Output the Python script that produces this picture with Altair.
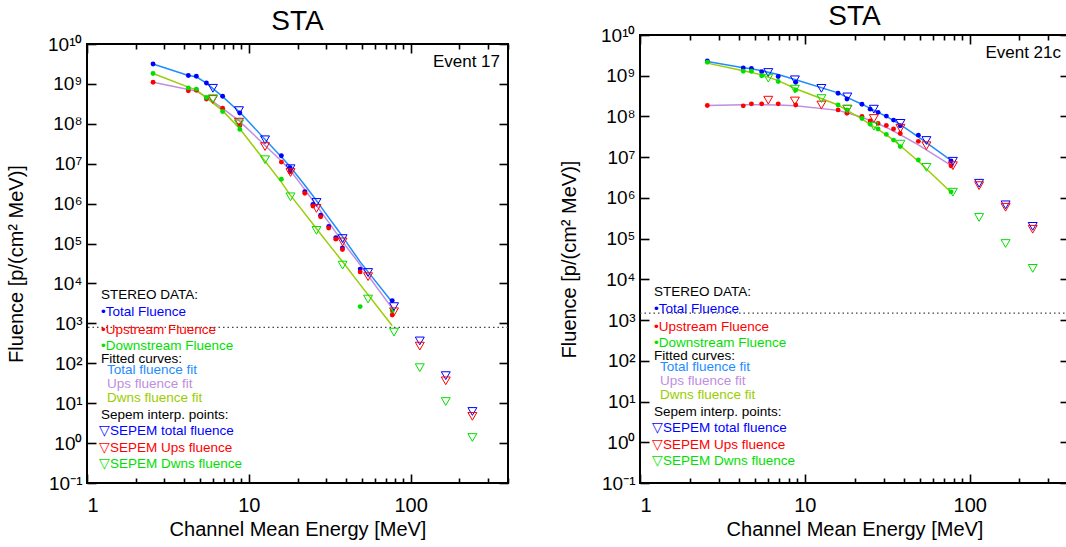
import altair as alt
import pandas as pd

# ---------------- data ----------------
E_STEREO = [2.56, 4.23, 4.74, 5.47, 6.89, 8.8, 15.9, 18.0, 22.2, 24.9, 27.8, 31.2, 34.5, 37.9, 48.8, 77.0]
E_SEPEM = [6.0, 8.7, 12.6, 18.1, 26.2, 38.0, 54.6, 79.0, 114.0, 165.0, 241.0]

# Event 17
EV17_TOTAL = [3.16e9, 1.62e9, 1.55e9, 1.05e9, 4.90e8, 1.86e8, 1.58e7, 7.94e6, 2.0e6, 9.55e5, 5.13e5, 2.69e5, 1.41e5, 7.76e4, 2.29e4, 3.72e3]
EV17_UPS = [1.10e9, 6.76e8, 6.92e8, 4.17e8, 2.45e8, 9.12e7, 1.10e7, 6.31e6, 1.82e6, 8.71e5, 4.68e5, 2.45e5, 1.29e5, 7.08e4, 1.95e4, 1.62e3]
EV17_DWNS = [1.82e9, 7.94e8, 7.41e8, 4.57e8, 2.04e8, 7.24e7, 4.07e6, None, None, None, None, None, None, None, 2.63e3, 2.04e3]
EV17_FIT_TOTAL = [3.16e9, 1.62e9, 1.51e9, 1.05e9, 4.79e8, 1.95e8, 1.48e7, 8.51e6, 2.88e6, 1.58e6, 8.51e5, 4.47e5, 2.57e5, 1.51e5, 3.47e4, 3.39e3]
EV17_FIT_UPS = [1.10e9, 7.24e8, 6.61e8, 4.68e8, 2.45e8, 1.15e8, 1.17e7, 6.92e6, 2.24e6, 1.20e6, 6.46e5, 3.39e5, 1.91e5, 1.12e5, 2.95e4, 2.37e3]
EV17_FIT_DWNS = [1.82e9, 8.32e8, 7.08e8, 4.47e8, 2.14e8, 7.50e7, 3.47e6, 1.66e6, 5.62e5, 3.09e5, 1.74e5, 9.55e4, 5.75e4, 3.55e4, 9.33e3, 8.71e2]
EV17_SEP_TOTAL = [7.76e8, 2.14e8, 3.98e7, 7.50e6, 1.07e6, 1.33e5, 1.88e4, 2.63e3, 363, 49, 6.2]
EV17_SEP_UPS = [4.07e8, 1.10e8, 2.69e7, 6.03e6, 7.59e5, 1.10e5, 1.48e4, 1.95e3, 269, 36.3, 4.68]
EV17_SEP_DWNS = [4.27e8, 1.0e8, 1.26e7, 1.48e6, 2.14e5, 2.88e4, 4.07e3, 603, 77.6, 11.0, 1.38]
EV17_LEVEL = 794

# Event 21c
EV21_TOTAL = [2.29e9, 1.55e9, 1.51e9, 1.26e9, 9.55e8, 6.92e8, 3.72e8, 2.69e8, 2.0e8, 1.51e8, 1.26e8, 1.02e8, 8.13e7, 5.89e7, 3.47e7, 8.13e6]
EV21_UPS = [1.86e8, 1.82e8, 2.04e8, 2.04e8, 2.04e8, 1.91e8, 1.45e8, 1.20e8, 1.0e8, 7.76e7, 6.76e7, 6.03e7, 4.90e7, 3.80e7, 2.45e7, 6.17e6]
EV21_DWNS = [2.14e9, 1.29e9, 1.29e9, 1.0e9, 7.24e8, 4.47e8, 1.91e8, 1.45e8, 8.91e7, 6.46e7, 4.90e7, 3.63e7, 2.63e7, 1.82e7, 8.51e6, 1.41e6]
EV21_FIT_TOTAL = [2.24e9, 1.58e9, 1.48e9, 1.32e9, 1.07e9, 7.94e8, 3.80e8, 2.95e8, 2.0e8, 1.58e8, 1.26e8, 1.0e8, 7.94e7, 6.31e7, 3.16e7, 8.32e6]
EV21_FIT_UPS = [1.86e8, 1.95e8, 1.95e8, 1.95e8, 1.91e8, 1.82e8, 1.41e8, 1.23e8, 9.55e7, 7.94e7, 6.61e7, 5.37e7, 4.37e7, 3.55e7, 2.0e7, 6.31e6]
EV21_FIT_DWNS = [2.04e9, 1.32e9, 1.20e9, 1.05e9, 7.59e8, 4.79e8, 1.91e8, 1.41e8, 8.71e7, 6.31e7, 4.79e7, 3.55e7, 2.63e7, 1.91e7, 7.94e6, 1.38e6]
EV21_SEP_TOTAL = [1.20e9, 7.94e8, 4.90e8, 3.02e8, 1.51e8, 6.76e7, 2.57e7, 7.94e6, 2.29e6, 6.76e5, 2.0e5]
EV21_SEP_UPS = [2.51e8, 2.40e8, 1.91e8, 1.51e8, 8.91e7, 5.13e7, 1.91e7, 6.17e6, 2.0e6, 5.89e5, 1.70e5]
EV21_SEP_DWNS = [8.71e8, 4.68e8, 2.75e8, 1.51e8, 5.75e7, 2.09e7, 5.62e6, 1.38e6, 3.31e5, 7.59e4, 1.86e4]
EV21_LEVEL = 1490

X_MAJOR = [1, 10, 100]
X_MINOR = [2, 3, 4, 5, 6, 7, 8, 9, 20, 30, 40, 50, 60, 70, 80, 90, 200, 300, 400]
Y_MAJOR = [1e-1, 1e0, 1e1, 1e2, 1e3, 1e4, 1e5, 1e6, 1e7, 1e8, 1e9, 1e10]

LEGEND_TEXT = ["STEREO DATA:", "\u2022Total Fluence", "\u2022Upstream Fluence", "\u2022Downstream Fluence",
               "Fitted curves:", "Total fluence fit", "Ups fluence fit", "Dwns fluence fit",
               "Sepem interp. points:", "\u25BDSEPEM total fluence", "\u25BDSEPEM Ups fluence",
               "\u25BDSEPEM Dwns fluence"]

# ---------------- styling ----------------
FONT = "Liberation Sans"
C_TOT, C_UPS, C_DWN = "#0000ff", "#ff0000", "#00e000"
C_FTOT, C_FUPS, C_FDWN = "#1e8cff", "#c08ee0", "#9acd00"
LEGEND_COLOR = ["black", C_TOT, C_UPS, C_DWN, "black", C_FTOT, C_FUPS, C_FDWN,
                "black", C_TOT, C_UPS, C_DWN]
LEGEND_INDENT = [14, 14, 14, 14, 14, 20, 20, 20, 14, 12, 12, 12]
LEGEND_DY = [0, 17, 35, 51, 64, 75, 89, 103, 120, 136, 153, 169]

YLABEL = ("'10' + (datum.value < 0.5 ? '\u207B\u00B9' : (datum.value > 5e9 ? '\u00B9\u2070' : "
          "substring('\u2070\u00B9\u00B2\u00B3\u2074\u2075\u2076\u2077\u2078\u2079', "
          "round(log(datum.value)/LN10), round(log(datum.value)/LN10) + 1)))")


def long_df(energies, series):
    rows = []
    for name, vals in series:
        for e, v in zip(energies, vals):
            if v is not None:
                rows.append({"E": e, "F": v, "s": name})
    return pd.DataFrame(rows)


def panel(tot, ups, dwn, ftot, fups, fdwn, stot, sups, sdwn, event, level,
          width, height, title_offset, legend_top):
    xs = alt.Scale(type="log", domain=[1, 400])
    ys = alt.Scale(type="log", domain=[0.1, 1e10])

    ax_bottom = alt.Axis(orient="bottom", values=X_MAJOR, offset=-9, tickSize=9, domain=False,
                         grid=False, labelExpr="datum.value + ''", labelFontSize=20,
                         labelPadding=12, title="Channel Mean Energy [MeV]", titleFontSize=20,
                         titlePadding=4)
    ax_top = alt.Axis(orient="top", values=X_MAJOR, offset=-9, tickSize=9, domain=False,
                      grid=False, labels=False, title=None)
    ax_bottom_minor = alt.Axis(orient="bottom", values=X_MINOR, offset=-5, tickSize=5, domain=False,
                               grid=False, labels=False, title=None)
    ax_top_minor = alt.Axis(orient="top", values=X_MINOR, offset=-5, tickSize=5, domain=False,
                            grid=False, labels=False, title=None)
    ax_left = alt.Axis(orient="left", values=Y_MAJOR, offset=-9, tickSize=9, domain=False,
                       grid=False, labelExpr=YLABEL, labelFontSize=19, labelPadding=5,
                       title="Fluence [p/(cm\u00B2 MeV)]", titleFontSize=20, titlePadding=21)
    ax_right = alt.Axis(orient="right", values=Y_MAJOR, offset=-9, tickSize=9, domain=False,
                        grid=False, labels=False, title=None)

    fits = long_df(E_STEREO, [("Total fit", ftot), ("Ups fit", fups), ("Dwns fit", fdwn)])
    dots = long_df(E_STEREO, [("Total", tot), ("Ups", ups), ("Dwns", dwn)])
    seps = long_df(E_SEPEM, [("SEPEM total", stot), ("SEPEM ups", sups), ("SEPEM dwns", sdwn)])

    fit_layer = alt.Chart(fits).mark_line(strokeWidth=1.5).encode(
        x=alt.X("E:Q", scale=xs, axis=ax_bottom),
        y=alt.Y("F:Q", scale=ys, axis=ax_left),
        color=alt.Color("s:N", legend=None,
                        scale=alt.Scale(domain=["Total fit", "Ups fit", "Dwns fit"],
                                        range=[C_FTOT, C_FUPS, C_FDWN])),
    )
    dot_layer = alt.Chart(dots).mark_circle(size=24, opacity=1).encode(
        x=alt.X("E:Q", scale=xs, axis=ax_top),
        y=alt.Y("F:Q", scale=ys, axis=ax_right),
        color=alt.Color("s:N", legend=None,
                        scale=alt.Scale(domain=["Total", "Ups", "Dwns"],
                                        range=[C_TOT, C_UPS, C_DWN])),
    )
    tri_layer = alt.Chart(seps).mark_point(shape="triangle-down", filled=False, size=80,
                                           strokeWidth=1, opacity=1).encode(
        x=alt.X("E:Q", scale=xs, axis=ax_bottom_minor),
        y=alt.Y("F:Q", scale=ys, axis=None),
        color=alt.Color("s:N", legend=None,
                        scale=alt.Scale(domain=["SEPEM total", "SEPEM ups", "SEPEM dwns"],
                                        range=[C_TOT, C_UPS, C_DWN])),
    )
    minor_layer = alt.Chart(dots).mark_circle(opacity=0).encode(
        x=alt.X("E:Q", scale=xs, axis=ax_top_minor),
        y=alt.Y("F:Q", scale=ys, axis=None),
    )
    rule_layer = alt.Chart(alt.Data(values=[{}])).mark_rule(
        strokeDash=[1.5, 3], color="#444444", strokeWidth=1.3
    ).encode(y=alt.YDatum(level, type="quantitative", scale=ys, axis=None))

    event_layer = alt.Chart(alt.Data(values=[{}])).mark_text(
        align="right", baseline="middle", font=FONT, fontSize=17, color="black"
    ).encode(x=alt.value(width - 8), y=alt.value(18), text=alt.value(event))

    texts = []
    for txt, col, ind, dy in zip(LEGEND_TEXT, LEGEND_COLOR, LEGEND_INDENT, LEGEND_DY):
        texts.append(
            alt.Chart(alt.Data(values=[{}])).mark_text(
                align="left", baseline="middle", font=FONT, fontSize=13.5, color=col
            ).encode(x=alt.value(ind), y=alt.value(legend_top + dy), text=alt.value(txt))
        )

    return alt.layer(fit_layer, dot_layer, tri_layer, minor_layer, rule_layer, event_layer, *texts).resolve_axis(
        x="independent", y="independent"
    ).resolve_scale(color="independent").properties(
        width=width, height=height,
        title=alt.Title("STA", fontSize=28, font=FONT, fontWeight="normal", color="black",
                        offset=title_offset, anchor="middle"),
    )


def spacer(width, height):
    return alt.Chart(alt.Data(values=[{}])).mark_rule(opacity=0, strokeWidth=0).encode(
        x=alt.value(0), x2=alt.value(0), y=alt.value(0), y2=alt.value(0)
    ).properties(width=width, height=height,
                 view=alt.ViewBackground(stroke="transparent", strokeWidth=0))


left = panel(EV17_TOTAL, EV17_UPS, EV17_DWNS, EV17_FIT_TOTAL, EV17_FIT_UPS, EV17_FIT_DWNS,
             EV17_SEP_TOTAL, EV17_SEP_UPS, EV17_SEP_DWNS, "Event 17", EV17_LEVEL,
             421, 439, -1, 251)
right = panel(EV21_TOTAL, EV21_UPS, EV21_DWNS, EV21_FIT_TOTAL, EV21_FIT_UPS, EV21_FIT_DWNS,
              EV21_SEP_TOTAL, EV21_SEP_UPS, EV21_SEP_DWNS, "Event 21c", EV21_LEVEL,
              429, 448, -5, 257)

left_col = alt.vconcat(spacer(421, 7), left, spacing=0)
right_col = alt.vconcat(spacer(429, 2), right, spacing=0)

chart = alt.hconcat(left_col, right_col, spacing=48).properties(
    padding={"left": 5, "top": 0, "right": -5, "bottom": 0}, background="white"
).configure_view(stroke="black", strokeWidth=2).configure_axis(
    labelFont=FONT, titleFont=FONT, labelColor="black", titleColor="black",
    tickColor="black", tickWidth=1.6, titleFontWeight="normal",
)

chart.save("out.html", embed_options={"renderer": "svg", "actions": False})
